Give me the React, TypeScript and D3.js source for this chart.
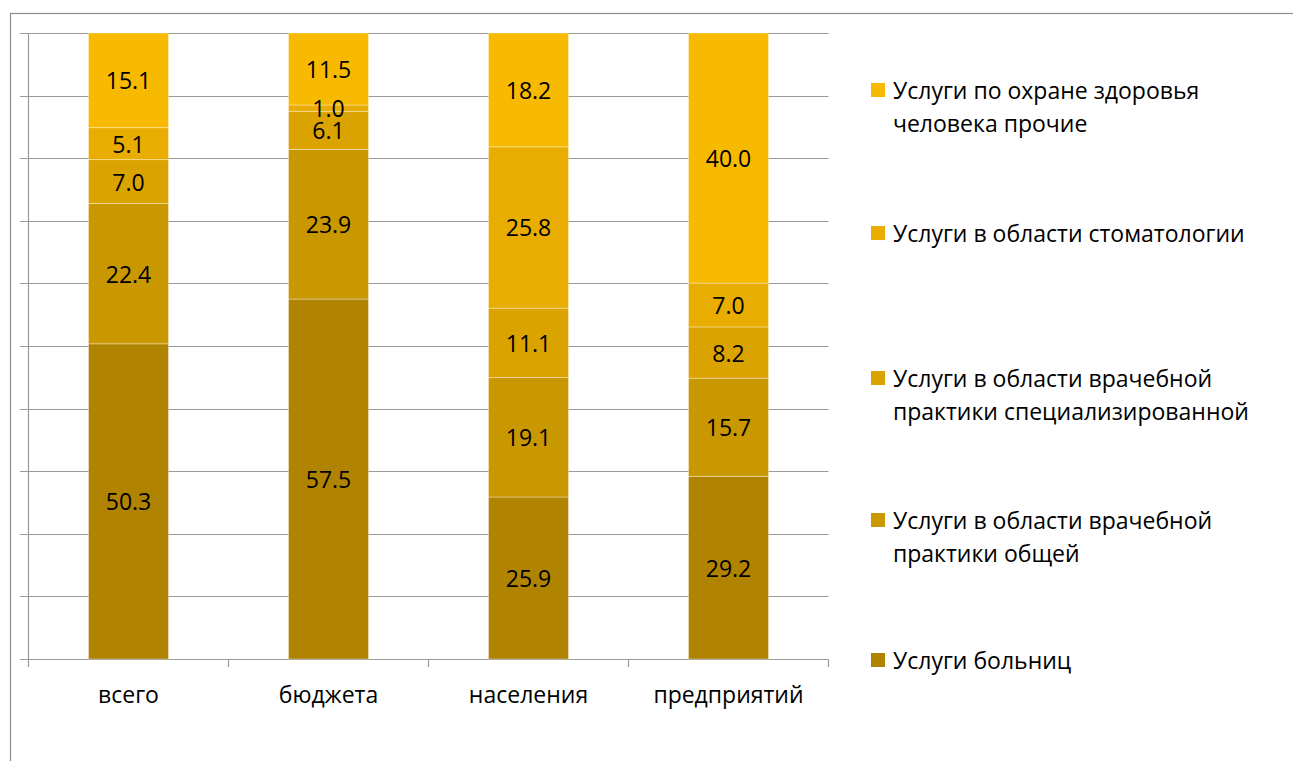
import React from "react";
import * as d3 from "d3";

const categories = ["всего", "бюджета", "населения", "предприятий"];
const seriesNames = [
  "Услуги больниц",
  "Услуги в области врачебной практики общей",
  "Услуги в области врачебной практики специализированной",
  "Услуги в области стоматологии",
  "Услуги по охране здоровья человека прочие",
];
const legendLines = [
  ["Услуги больниц"],
  ["Услуги в области врачебной", "практики общей"],
  ["Услуги в области врачебной", "практики специализированной"],
  ["Услуги в области стоматологии"],
  ["Услуги по охране здоровья", "человека прочие"],
];
const hospitals = [50.3, 57.5, 25.9, 29.2];
const generalPractice = [22.4, 23.9, 19.1, 15.7];
const specialPractice = [7.0, 6.1, 11.1, 8.2];
const dentistry = [5.1, 1.0, 25.8, 7.0];
const otherHealth = [15.1, 11.5, 18.2, 40.0];
const seriesValues = [hospitals, generalPractice, specialPractice, dentistry, otherHealth];
const colors = ["#B08400", "#C99700", "#DBA300", "#E8AD00", "#F8BA00"];
const yTicks = [0, 0.1, 0.2, 0.3, 0.4, 0.5, 0.6, 0.7, 0.8, 0.9, 1.0];

const W = 1293;
const H = 761;
const FONT = "'Open Sans', sans-serif";
const FS = 23;

export default function App() {
  const x = d3.scaleBand<string>().domain(categories).range([28.5, 828.5]).paddingInner(0.6).paddingOuter(0.3);
  const y = d3.scaleLinear().domain([0, 1]).range([659, 33]);

  const rows = categories.map((c, i) => {
    const r: any = { cat: c };
    seriesNames.forEach((s, k) => (r[s] = seriesValues[k][i]));
    return r;
  });
  const stack = d3.stack<any>().keys(seriesNames).offset(d3.stackOffsetExpand);
  const layers = stack(rows);

  const step = x.step();
  const boundaries = d3.range(categories.length + 1).map((i) => 28.5 + i * step);

  const legendY = [660, 520, 378, 233, 90];
  const lineH = 33;

  return (
    <svg
      width={W}
      height={H}
      style={{ position: "absolute", left: 0, top: 0, background: "#fff" }}
      fontFamily={FONT}
    >
      <rect x={10.5} y={13.5} width={W + 20} height={H + 20} fill="#fff" stroke="#8c8c8c" strokeWidth={1.2} />
      {yTicks.map((t) => (
        <line key={t} x1={20} x2={828.5} y1={Math.round(y(t)) + 0.5} y2={Math.round(y(t)) + 0.5} stroke="#9a9a9a" strokeWidth={1.2} />
      ))}
      <line x1={28.5} x2={28.5} y1={33} y2={659.5} stroke="#9a9a9a" strokeWidth={1.2} />
      {boundaries.map((b, i) => (
        <line key={i} x1={b} x2={b} y1={659.5} y2={667} stroke="#9a9a9a" strokeWidth={1.2} />
      ))}
      {layers.map((layer, k) => (
        <g key={layer.key}>
          {layer.map((d, i) => {
            const y0 = y(d[0]);
            const y1 = y(d[1]);
            return (
              <rect
                key={i}
                x={x(categories[i])}
                y={y1}
                width={x.bandwidth()}
                height={y0 - y1}
                fill={colors[k]}
                stroke="rgba(255,255,255,0.35)"
                strokeWidth={1}
              />
            );
          })}
        </g>
      ))}
      {layers.map((layer, k) => (
        <g key={"l" + layer.key}>
          {layer.map((d, i) => (
            <text
              key={i}
              x={(x(categories[i]) as number) + x.bandwidth() / 2}
              y={(y(d[0]) + y(d[1])) / 2}
              textAnchor="middle"
              dominantBaseline="central"
              fontSize={FS}
              fill="#000"
            >
              {seriesValues[k][i].toFixed(1)}
            </text>
          ))}
        </g>
      ))}
      {categories.map((c) => (
        <text
          key={c}
          x={(x(c) as number) + x.bandwidth() / 2}
          y={694}
          textAnchor="middle"
          dominantBaseline="central"
          fontSize={FS}
          fill="#000"
        >
          {c}
        </text>
      ))}
      {legendLines.map((lines, k) => (
        <g key={k}>
          <rect x={871} y={legendY[k] - 7} width={14} height={14} fill={colors[k]} />
          {lines.map((ln, j) => (
            <text key={j} x={893} y={legendY[k] + j * lineH} dominantBaseline="central" fontSize={FS} fill="#000">
              {ln}
            </text>
          ))}
        </g>
      ))}
    </svg>
  );
}
